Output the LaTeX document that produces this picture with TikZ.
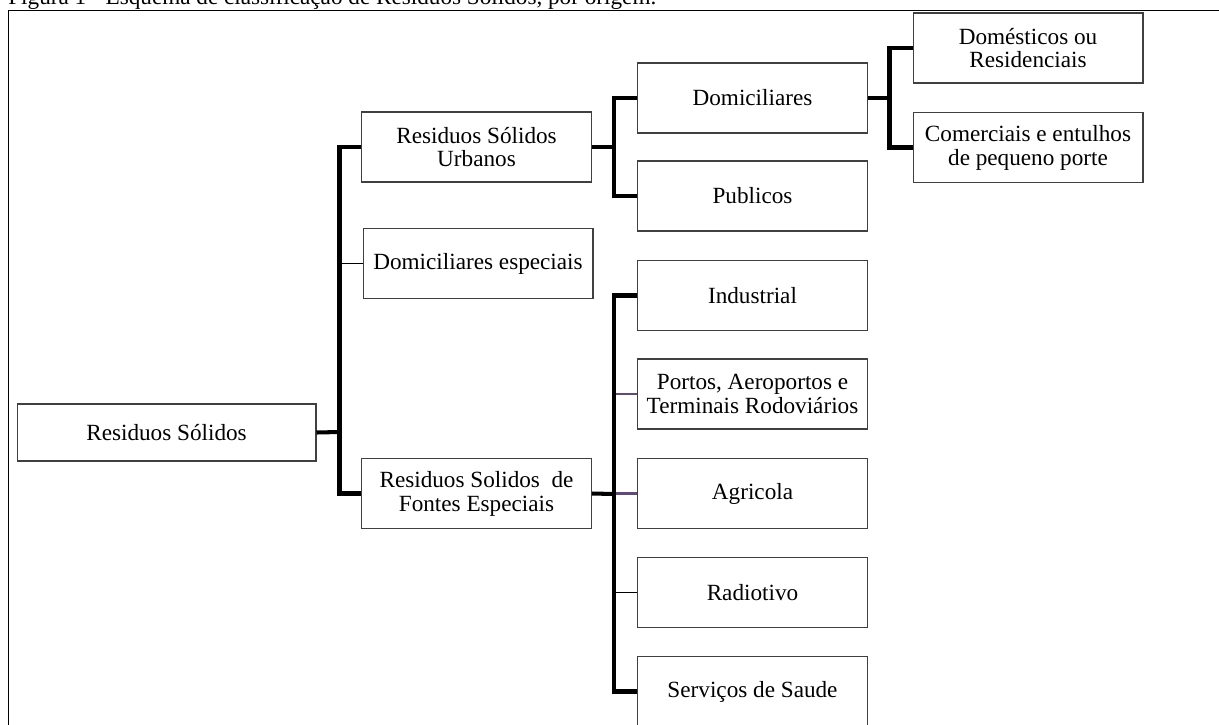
\documentclass[tikz,border=0pt]{standalone}
\usepackage{fontspec}
\setmainfont{Liberation Serif}
\usepackage{xcolor}
\usepackage{tikz}
\usetikzlibrary{calc}

\definecolor{lnkpurple}{RGB}{96,74,123}

\begin{document}
\begin{tikzpicture}[x=0.02cm, y=-0.02cm,
    box/.style={draw=black!75, line width=0.6pt, rectangle, minimum width=4.6cm, minimum height=1.4cm, inner sep=0pt, align=center, font=\fontsize{13.2}{13.6}\selectfont},
    lnk/.style={line width=2.3pt, black},
    thinlnk/.style={line width=0.6pt, black},
    purlnk/.style={line width=1.2pt, lnkpurple}
]
\useasboundingbox (0,0) rectangle (1219,724);
\clip (0,0) rectangle (1219,724);
% caption and frame
\node[anchor=base west, inner sep=0pt, font=\fontsize{13.2}{13.6}\selectfont] (cap) at (8,4.5) {Figura 1 - Esquema de classificação de Resíduos Sólidos, por origem.};
\draw[line width=1.1pt] (8.5,730) -- (8.5,10.5) -- (1225,10.5);
% boxes
\node[box, minimum width=5.98cm, minimum height=1.14cm] (RS) at (166.5, 432.5) {Residuos Sólidos};
\node[box] (RSU) at (476.5, 147) {Residuos Sólidos\\Urbanos};
\node[box] (DE) at (478, 263.5) {Domiciliares especiais};
\node[box] (RSFE) at (476.5, 493.5) {Residuos Solidos\ \ de\\Fontes Especiais};
\node[box] (DOM) at (752.5, 98) {Domiciliares};
\node[box] (PUB) at (752.5, 196) {Publicos};
\node[box] (DR) at (1028, 48) {Domésticos ou\\Residenciais};
\node[box] (CE) at (1028, 147.5) {Comerciais e entulhos\\de pequeno porte};
\node[box] (IND) at (752.5, 295.5) {Industrial};
\node[box] (POR) at (752.5, 394) {Portos, Aeroportos e\\Terminais Rodoviários};
\node[box] (AGR) at (752.5, 493.5) {Agricola};
\node[box] (RAD) at (752.5, 592.5) {Radiotivo};
\node[box] (SER) at (752.5, 691.5) {Serviços de Saude};
% trunks
\coordinate (t1) at (339.5, 432);
\coordinate (t2) at (614, 147);
\coordinate (t3) at (889.5, 98);
\coordinate (t4) at (614, 494);
\draw[thinlnk] (DE.west) -- (t1 |- DE.west);
\draw[purlnk] (POR.west) -- (t4 |- POR.west);
\draw[purlnk] (AGR.west) -- (t4 |- AGR.west);
\draw[thinlnk] (RAD.west) -- (t4 |- RAD.west);
\draw[lnk] (RS.east) -- (t1);
\draw[lnk] (RSU.west) -| (t1) |- (RSFE.west);
\draw[lnk] (RSU.east) -- (t2);
\draw[lnk] (DOM.west) -| (t2) |- (PUB.west);
\draw[lnk] (DOM.east) -- (t3);
\draw[lnk] (DR.west) -| (t3) |- (CE.west);
\draw[lnk] (RSFE.east) -- (t4);
\draw[lnk] (IND.west) -| (t4) |- (SER.west);
\end{tikzpicture}
\end{document}
